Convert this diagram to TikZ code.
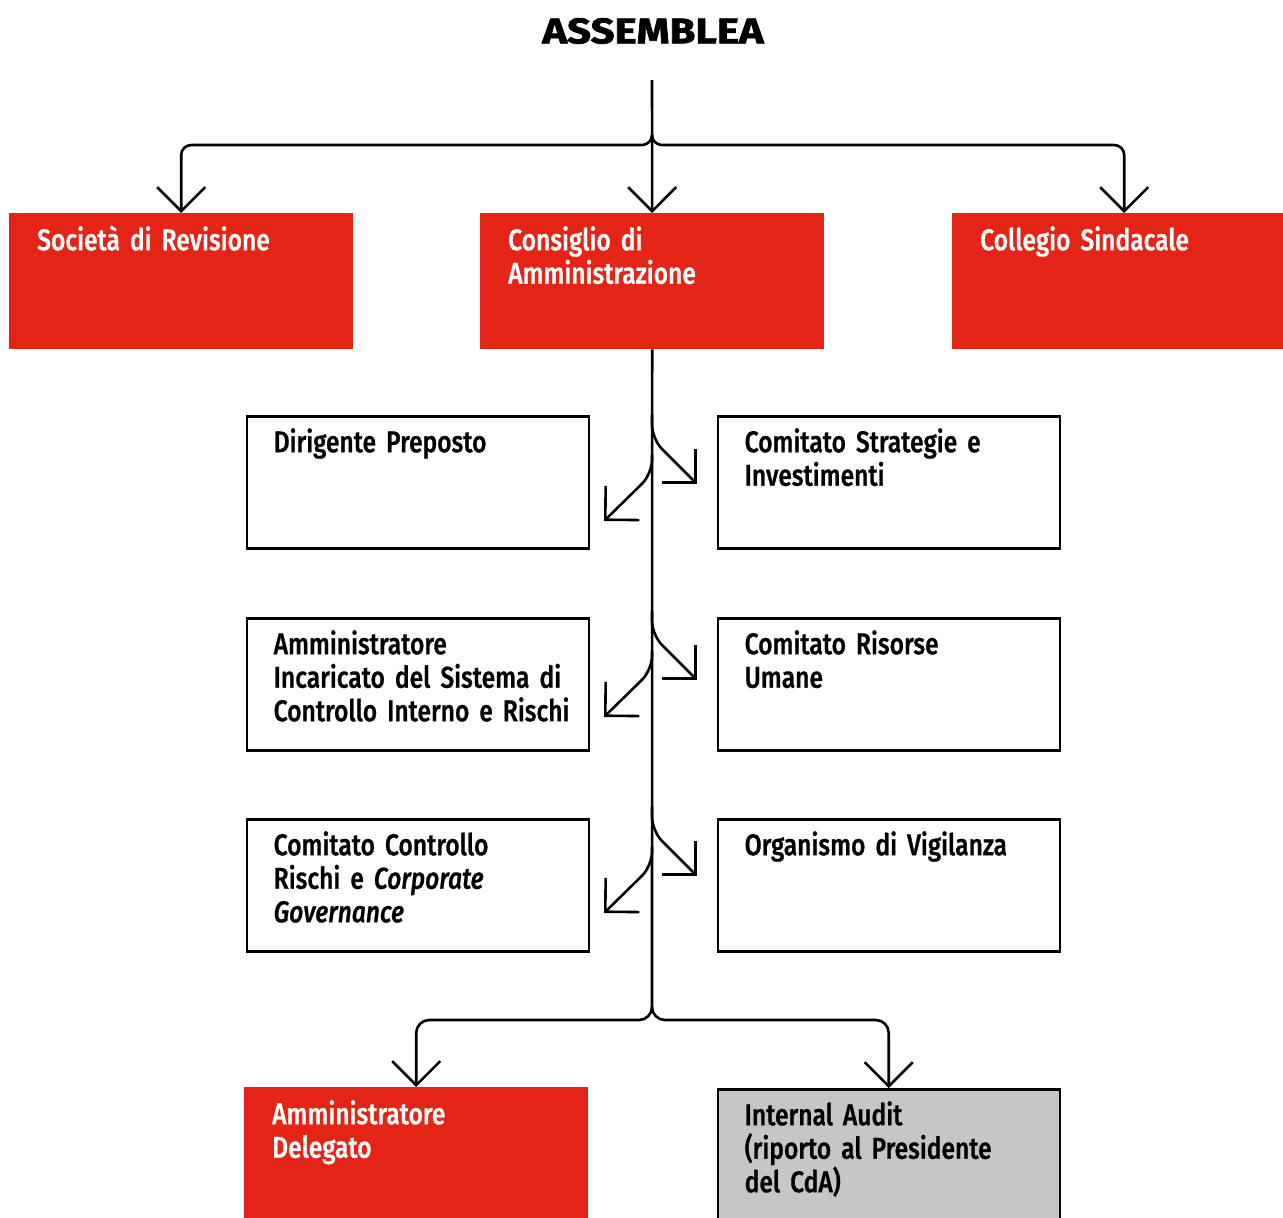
\documentclass[tikz,border=0pt]{standalone}
\usepackage{fontspec}
\setmainfont{Fira Sans}[UprightFont={* Medium}, ItalicFont={* Medium Italic}, BoldFont={* Bold}, FakeStretch=0.82, FakeBold=0.8, WordSpace=0.85]
\newfontfamily\titlefont{Fira Sans Bold}[FakeStretch=1.18, FakeBold=2]
\usetikzlibrary{arrows.meta}
\definecolor{cred}{RGB}{227,36,22}
\definecolor{cgrey}{RGB}{198,198,198}
\newcommand\bxfont{\fontsize{30}{33.5}\selectfont\hyphenpenalty=10000\exhyphenpenalty=10000}
\newcommand\fst{\rule{0pt}{25pt}}
\tikzset{
  conn/.style={line width=2.6pt, draw=black},
  arr/.style={conn, -{Straight Barb[length=24pt,width=48pt]}},
  redbox/.style={fill=cred, draw=none, minimum width=344pt, minimum height=136pt, inner sep=0pt, anchor=north west},
  whitebox/.style={fill=white, draw=black, line width=2.5pt, minimum width=342pt, minimum height=132pt, inner sep=0pt, anchor=north west},
  greybox/.style={whitebox, fill=cgrey},
  redtxt/.style={anchor=north west, inner sep=0pt, text width=310pt, align=left, font=\bxfont, text=white},
  blktxt/.style={anchor=north west, inner sep=0pt, text width=310pt, align=left, font=\bxfont, text=black},
  titletxt/.style={inner sep=0pt, font=\fontsize{35.5}{40}\selectfont\titlefont}
}
\begin{document}
\begin{tikzpicture}[x=1pt,y=-1pt]
\clip (0,0) rectangle (1283,1218);
\fill[white] (0,0) rectangle (1283,1218);
% title
\node[titletxt] (asm) at (653,31) {ASSEMBLEA};
% top boxes
\node[redbox] (soc) at (9,213) {};
\node[redbox] (cda) at (480,213) {};
\node[redbox] (col) at (952,213) {};
\node[redtxt] at ([shift={(28,12)}]soc.north west) {\fst Società di Revisione};
\node[redtxt] at ([shift={(28,12)}]cda.north west) {\fst Consiglio di\\Amministrazione};
\node[redtxt] at ([shift={(28,12)}]col.north west) {\fst Collegio Sindacale};
% committee boxes
\node[whitebox] (dp)  at (245.5,415) {};
\node[whitebox] (csi) at (716.5,415) {};
\node[whitebox] (aic) at (245.5,617) {};
\node[whitebox] (cru) at (716.5,617) {};
\node[whitebox] (ccr) at (245.5,818) {};
\node[whitebox] (odv) at (716.5,818) {};
\node[blktxt] at ([shift={(28,12)}]dp.north west)  {\fst Dirigente Preposto};
\node[blktxt] at ([shift={(28,12)}]csi.north west) {\fst Comitato Strategie e\\Investimenti};
\node[blktxt] at ([shift={(28,12)}]aic.north west) {\fst Amministratore\\Incaricato del Sistema di\\Controllo Interno e Rischi};
\node[blktxt] at ([shift={(28,12)}]cru.north west) {\fst Comitato Risorse\\Umane};
\node[blktxt] at ([shift={(28,12)}]ccr.north west) {\fst Comitato Controllo\\Rischi e \textit{Corporate}\\\textit{Governance}};
\node[blktxt] at ([shift={(28,12)}]odv.north west) {\fst Organismo di Vigilanza};
% bottom boxes
\node[redbox] (ad) at (244,1087) {};
\node[greybox] (ia) at (716.5,1088) {};
\node[redtxt] at ([shift={(28,12)}]ad.north west) {\fst Amministratore\\Delegato};
\node[blktxt] at ([shift={(28,12)}]ia.north west) {\fst Internal Audit\\(riporto al Presidente\\del CdA)};
% top connectors
\coordinate (a0) at (652,80);
\coordinate (jt) at (652,135);
\coordinate (jh) at (652,145);
\draw[arr] (a0) -- (cda.north);
\draw[arr, rounded corners=10pt] (jt) -- (jh) -- (soc.north |- jh) -- (soc.north);
\draw[arr, rounded corners=10pt] (jt) -- (jh) -- (col.north |- jh) -- (col.north);
% trunk
\coordinate (jb) at (652,1007);
\coordinate (hb) at (652,1020);
\draw[conn] (cda.south) -- (jb);
\draw[arr, rounded corners=13pt] (jb) -- (hb) -- (ad.north |- hb) -- (ad.north);
\draw[arr, rounded corners=13pt] (jb) -- (hb) -- (ia.north |- hb) -- (ia.north);
% side branches
\foreach \dy [count=\i] in {0, 196, 392}{
  \coordinate (rs\i) at (652,{415+\dy});
  \coordinate (rc\i) at (652,{439+\dy});
  \coordinate (re\i) at (697,{484+\dy});
  \coordinate (ls\i) at (652,{455+\dy});
  \coordinate (lc\i) at (652,{474+\dy});
  \coordinate (le\i) at (604,{521+\dy});
  \draw[arr, rounded corners=14pt] (rs\i) -- (rc\i) -- (re\i);
  \draw[arr, rounded corners=14pt] (ls\i) -- (lc\i) -- (le\i);
}
\end{tikzpicture}
\end{document}
